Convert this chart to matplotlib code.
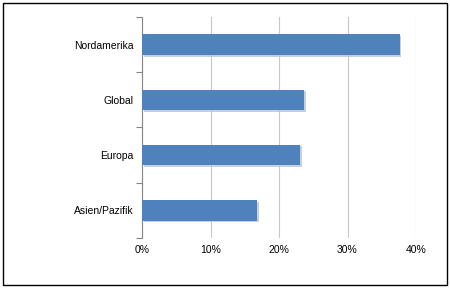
import matplotlib
matplotlib.use('Agg')
import matplotlib.pyplot as plt
import matplotlib.patheffects as pe
from matplotlib.patches import Rectangle
from matplotlib.ticker import PercentFormatter

# Daten
regions = ['Asien/Pazifik', 'Europa', 'Global', 'Nordamerika']
values = [16.8, 23.1, 23.7, 37.6]

plt.rcParams['font.family'] = ['Liberation Sans', 'DejaVu Sans']

fig = plt.figure(figsize=(4.5, 2.88), dpi=100)
fig.patch.set_facecolor('white')
ax = fig.add_axes([0.3156, 0.1736, 0.6089, 0.7674])

bars = ax.barh(regions, values, height=0.375, color='#4F81BD', zorder=3)
for b in bars:
    b.set_path_effects([pe.SimplePatchShadow(offset=(1.2, -1.2), shadow_rgbFace='#B8C4D6', alpha=0.8),
                        pe.Normal()])

ax.set_xlim(0, 40)
ax.set_ylim(-0.5, 3.5)
ax.set_xticks([0, 10, 20, 30, 40])
ax.xaxis.set_major_formatter(PercentFormatter(decimals=0))
ax.grid(axis='x', color='#C8C8C8', linewidth=0.8, zorder=0)

for s in ['top', 'right', 'bottom']:
    ax.spines[s].set_visible(False)
ax.spines['left'].set_color('#868686')
ax.spines['left'].set_linewidth(0.8)

ax.set_yticks([-0.5, 0.5, 1.5, 2.5, 3.5], minor=False)
ax.set_yticklabels([])
ax.set_yticks(range(len(regions)), minor=True)
ax.set_yticklabels(regions, minor=True)
ax.tick_params(axis='y', which='major', length=4, color='#868686', direction='out')
ax.tick_params(axis='y', which='minor', length=0, pad=6, labelsize=7.5)
ax.tick_params(axis='x', length=0, pad=5, labelsize=7.5)

# Rahmen um die Grafik
fig.patches.append(Rectangle((3 / 450, 3 / 288), 444 / 450, 282 / 288, transform=fig.transFigure,
                             fill=False, edgecolor='black', linewidth=1.0))

fig.savefig('out.png', dpi=100, facecolor='white')
